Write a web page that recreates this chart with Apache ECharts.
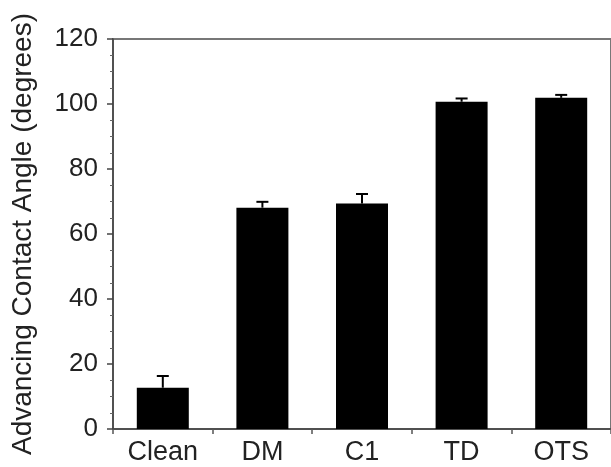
<!DOCTYPE html>
<html>
<head>
<meta charset="utf-8">
<script src="https://cdn.jsdelivr.net/npm/echarts@6/dist/echarts.min.js"></script>
<style>
  html, body { margin: 0; padding: 0; background: #fff; }
  #chart { width: 611px; height: 467px; }
</style>
</head>
<body>
<div id="chart"></div>
<script>
var categories = ["Clean", "DM", "C1", "TD", "OTS"];
var angleMean = [12.7, 68.1, 69.4, 100.7, 101.9];
var angleUpper = [16.3, 69.9, 72.3, 101.7, 102.8];
var yTicks = { min: 0, max: 120, step: 20 };

var font = "'Liberation Sans', Arial, Helvetica, sans-serif";
var myChart = echarts.init(document.getElementById("chart"));

var errData = categories.map(function (c, i) {
  return [i, angleMean[i], angleUpper[i]];
});

var option = {
  animation: false,
  grid: {
    left: 113,
    right: -1,
    top: 39,
    bottom: 38,
    show: true,
    borderColor: "#777",
    borderWidth: 2,
  },
  xAxis: {
    type: "category",
    data: categories,
    axisLine: { lineStyle: { color: "#444", width: 1.5 } },
    axisTick: { show: true, length: 5, lineStyle: { color: "#555", width: 1.5 } },
    axisLabel: { color: "#222", fontSize: 27, fontFamily: font, margin: 10 },
  },
  yAxis: {
    type: "value",
    min: yTicks.min,
    max: yTicks.max,
    interval: yTicks.step,
    name: "Advancing Contact Angle (degrees)",
    nameLocation: "middle",
    nameGap: 76,
    nameTextStyle: { color: "#222", fontSize: 28, fontFamily: font },
    axisLine: { show: true, lineStyle: { color: "#444", width: 1.5 } },
    axisTick: { show: true, length: 6, lineStyle: { color: "#444", width: 1.5 } },
    minorTick: { show: true, splitNumber: 4, length: 3, lineStyle: { color: "#666", width: 1 } },
    axisLabel: { color: "#222", fontSize: 26, fontFamily: font, margin: 15 },
    splitLine: { show: false },
  },
  series: [
    {
      type: "bar",
      data: angleMean,
      barWidth: 52,
      itemStyle: { color: "#000" },
    },
    {
      type: "custom",
      data: errData,
      z: 5,
      renderItem: function (params, api) {
        var x = api.value(0);
        var lo = api.coord([x, api.value(1)]);
        var hi = api.coord([x, api.value(2)]);
        var half = 6;
        var style = { stroke: "#000", lineWidth: 2 };
        return {
          type: "group",
          children: [
            { type: "line", shape: { x1: lo[0], y1: lo[1], x2: hi[0], y2: hi[1] }, style: style },
            { type: "line", shape: { x1: hi[0] - half, y1: hi[1], x2: hi[0] + half, y2: hi[1] }, style: style },
          ],
        };
      },
    },
  ],
};
myChart.setOption(option);
</script>
</body>
</html>
